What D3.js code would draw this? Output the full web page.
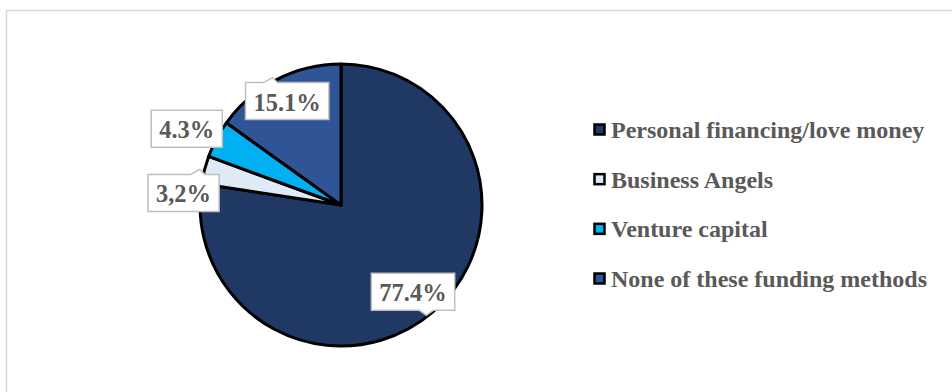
<!DOCTYPE html>
<html>
<head>
<meta charset="utf-8">
<script src="https://cdn.jsdelivr.net/npm/d3@7"></script>
<style>
  html, body { margin: 0; padding: 0; background: #fff; }
  svg { display: block; }
  text { font-family: "Liberation Serif", "Times New Roman", serif; font-weight: bold; fill: #595959; }
</style>
</head>
<body>
<svg id="chart" width="952" height="392"></svg>
<script>
// Funding sources of the surveyed start-ups (share of respondents, %)
const categories = [
  "Personal financing/love money",
  "Business Angels",
  "Venture capital",
  "None of these funding methods"
];
const values = [77.4, 3.2, 4.3, 15.1];
const valueLabels = ["77.4%", "3,2%", "4.3%", "15.1%"];
const colors = ["#203864", "#DEEBF7", "#00B0F0", "#2F5597"];

// label placement: radius as a fraction of the pie radius, angular nudge (deg),
// and which edge of the callout carries the pointer (fraction along that edge)
const labelRadius = [0.80, 1.12, 1.22, 0.83];
const labelNudge = [1.0, -10.0, -1.6, -0.2];
const pointerEdge = [["bottom", 0.66], ["top", 0.70], [null, 0], ["top", 0.30]];

const svg = d3.select("#chart");

// chart area frame
svg.append("rect")
  .attr("x", 6.5).attr("y", 10.5)
  .attr("width", 960).attr("height", 400)
  .attr("fill", "#fff").attr("stroke", "#D9D9D9").attr("stroke-width", 1.5);

const cx = 341, cy = 205, R = 141;

const pie = d3.pie().sort(null).value(d => d)(values);
const arc = d3.arc().innerRadius(0).outerRadius(R);

const g = svg.append("g").attr("transform", `translate(${cx},${cy})`);

g.selectAll("path.slice")
  .data(pie)
  .join("path")
  .attr("class", "slice")
  .attr("d", arc)
  .attr("fill", (d, i) => colors[i])
  .attr("stroke", "#000")
  .attr("stroke-width", 3)
  .attr("stroke-linejoin", "round");

// data callouts
const fontSize = 24.5;
const boxH = 37, padX = 8;

pie.forEach((d, i) => {
  const mid = (d.startAngle + d.endAngle) / 2 + labelNudge[i] * Math.PI / 180;
  const r = R * labelRadius[i];
  const lx = r * Math.sin(mid), ly = -r * Math.cos(mid);

  const lg = g.append("g").attr("transform", `translate(${lx},${ly})`);
  const t = lg.append("text")
    .attr("text-anchor", "middle")
    .attr("dominant-baseline", "central")
    .attr("y", 1)
    .style("font-size", fontSize + "px")
    .text(valueLabels[i]);
  const tw = t.node().getComputedTextLength();
  const bw = tw + 2 * padX;
  const x0 = -bw / 2, x1 = bw / 2, y0 = -boxH / 2, y1 = boxH / 2;

  // callout outline with a small pointer bump
  const [edge, f] = pointerEdge[i];
  const p = d3.path();
  const pw = 7, ph = 5;
  p.moveTo(x0, y0);
  if (edge === "top") {
    const px = x0 + bw * f;
    p.lineTo(px - pw, y0);
    p.lineTo(px + 2, y0 - ph);
    p.lineTo(px + pw, y0);
  }
  p.lineTo(x1, y0);
  p.lineTo(x1, y1);
  if (edge === "bottom") {
    const px = x0 + bw * f;
    p.lineTo(px + pw, y1);
    p.lineTo(px, y1 + ph);
    p.lineTo(px - pw, y1);
  }
  p.lineTo(x0, y1);
  p.closePath();

  lg.insert("path", "text")
    .attr("d", p.toString())
    .attr("fill", "#fff")
    .attr("stroke", "#BFBFBF")
    .attr("stroke-width", 1.5);
});

// legend
const legendY = d3.scalePoint().domain(categories).range([130, 279]);
const lgd = svg.append("g");
categories.forEach((c, i) => {
  const y = legendY(c);
  lgd.append("rect")
    .attr("x", 594.5).attr("y", y - 5.5)
    .attr("width", 10).attr("height", 10)
    .attr("fill", colors[i])
    .attr("stroke", "#000").attr("stroke-width", 2.5);
  lgd.append("text")
    .attr("x", 611).attr("y", y)
    .attr("dominant-baseline", "central")
    .style("font-size", "24px")
    .text(c);
});
</script>
</body>
</html>
